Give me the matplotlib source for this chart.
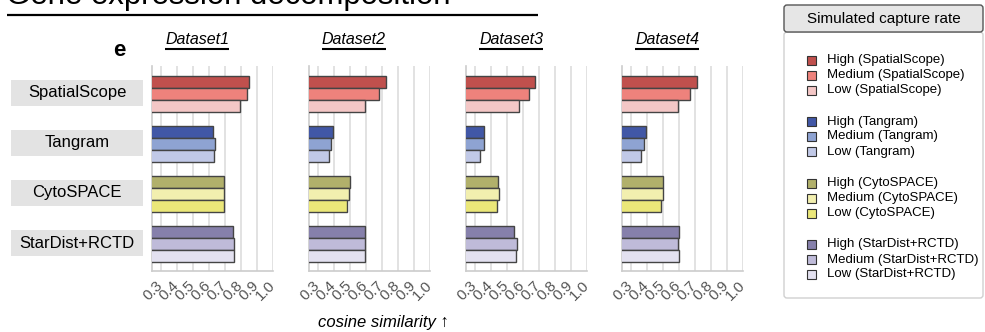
import matplotlib
matplotlib.use("Agg")
import matplotlib.pyplot as plt
from matplotlib.patches import Rectangle, FancyBboxPatch

plt.rcParams['font.family'] = ['Liberation Sans', 'DejaVu Sans']

# data
datasets = ['Dataset1', 'Dataset2', 'Dataset3', 'Dataset4']
methods = ['SpatialScope', 'Tangram', 'CytoSPACE', 'StarDist+RCTD']
levels = ['High', 'Medium', 'Low']

# rows = methods, columns = High / Medium / Low
ds1 = [[0.853, 0.838, 0.797], [0.625, 0.641, 0.631], [0.693, 0.697, 0.697], [0.753, 0.757, 0.757]]
ds2 = [[0.725, 0.681, 0.598], [0.394, 0.385, 0.371], [0.502, 0.496, 0.485], [0.594, 0.598, 0.598]]
ds3 = [[0.673, 0.640, 0.579], [0.359, 0.356, 0.334], [0.448, 0.450, 0.440], [0.546, 0.563, 0.556]]
ds4 = [[0.711, 0.671, 0.596], [0.396, 0.386, 0.367], [0.504, 0.500, 0.486], [0.600, 0.594, 0.600]]
all_values = [ds1, ds2, ds3, ds4]

ticks = [0.3, 0.4, 0.5, 0.6, 0.7, 0.8, 0.9, 1.0]
tick_labels = ['0.3', '0.4', '0.5', '0.6', '0.7', '0.8', '0.9', '1.0']

colors = [
    ['#c0504d', '#ee827c', '#f4c7c6'],
    ['#4157a6', '#8ea3d2', '#c1c9e7'],
    ['#b1b06b', '#f2efaf', '#ebe779'],
    ['#8680ab', '#bfbbd9', '#e3e1f0'],
]

W, H = 985, 332
fig = plt.figure(figsize=(W / 100, H / 100), dpi=100)

# overlay in pixel coordinates (y down) for the annotations
ov = fig.add_axes([0, 0, 1, 1])
ov.set_xlim(0, W)
ov.set_ylim(H, 0)
ov.axis('off')


def px_axes(x0, y0, w, h):
    return fig.add_axes([x0 / W, (H - y0 - h) / H, w / W, h / H])


group_step = 50 / 12  # bar height = 1 unit = 12 px
panel_left = [152, 309, 466, 622]
panel_w = 121
top, bottom = 66, 270.7

for i, vals in enumerate(all_values):
    ax = px_axes(panel_left[i], top, panel_w, bottom - top)
    for g, method in enumerate(methods):
        c = g * group_step
        for k in range(3):
            ax.barh(c - 1 + k, vals[g][k], height=1.0, color=colors[g][k],
                    edgecolor='#444444', linewidth=1.0, zorder=3)
    ax.set_xlim(0.246, 1.0)
    ax.set_ylim(3 * group_step + 26.7 / 12, -28 / 12)
    ax.set_yticks([])
    ax.set_xticks(ticks)
    ax.set_xticklabels(tick_labels, rotation=45, ha='right', va='center',
                       rotation_mode='anchor', fontsize=11, color='#555555')
    ax.tick_params(axis='x', length=0, pad=9)
    ax.grid(axis='x', color='#dddddd', linewidth=1.2, zorder=0)
    ax.set_axisbelow(True)
    for s in ['top', 'right']:
        ax.spines[s].set_visible(False)
    for s in ['left', 'bottom']:
        ax.spines[s].set_color('#cccccc')
        ax.spines[s].set_linewidth(1.2)

# section title, cut at the top
ov.text(6, 4, 'Gene expression decomposition', fontsize=22.4, va='baseline',
        ha='left', color='black')
ov.plot([7, 538], [15, 15], color='black', linewidth=1.6, solid_capstyle='butt')

ov.text(119, 50, 'e', fontsize=16, fontweight='bold', ha='center', va='center')

# dataset titles
title_texts = []
for i, name in enumerate(datasets):
    t = ov.text(panel_left[i] + 45, 40, name, fontsize=11.5, style='italic',
                ha='center', va='center')
    title_texts.append(t)

# method label boxes
for g, method in enumerate(methods):
    yc = 93 + g * 50
    ov.add_patch(Rectangle((11, yc - 13), 132, 26, facecolor='#e3e3e3',
                           edgecolor='none'))
    ov.text(77, yc, method, fontsize=12, ha='center', va='center')

ov.text(383, 322, 'cosine similarity \u2191', fontsize=12, style='italic',
        ha='center', va='center')

# legend
ov.add_patch(FancyBboxPatch((784, 32), 199, 266, boxstyle='round,pad=0,rounding_size=3',
                            facecolor='white', edgecolor='#d0d0d0', linewidth=1))
ov.add_patch(FancyBboxPatch((784, 5), 199, 27, boxstyle='round,pad=0,rounding_size=3',
                            facecolor='#e6e6e6', edgecolor='#555555', linewidth=1))
ov.text(884, 19, 'Simulated capture rate', fontsize=11, ha='center', va='center')
for g, method in enumerate(methods):
    for k, lev in enumerate(levels):
        y = 60 + g * 61.5 + k * 15
        ov.add_patch(Rectangle((807, y - 4.5), 9, 9, facecolor=colors[g][k],
                               edgecolor='#333333', linewidth=0.8))
        ov.text(827, y, f'{lev} ({method})', fontsize=9.5, ha='left', va='center')

# underline the dataset titles
fig.canvas.draw()
inv = ov.transData.inverted()
for t in title_texts:
    bb = t.get_window_extent()
    (x0, y0), (x1, y1) = inv.transform([(bb.x0, bb.y0), (bb.x1, bb.y1)])
    ov.plot([x0, x1], [49, 49], color='black', linewidth=1.5, solid_capstyle='butt')

fig.savefig('out.png', dpi=100)
